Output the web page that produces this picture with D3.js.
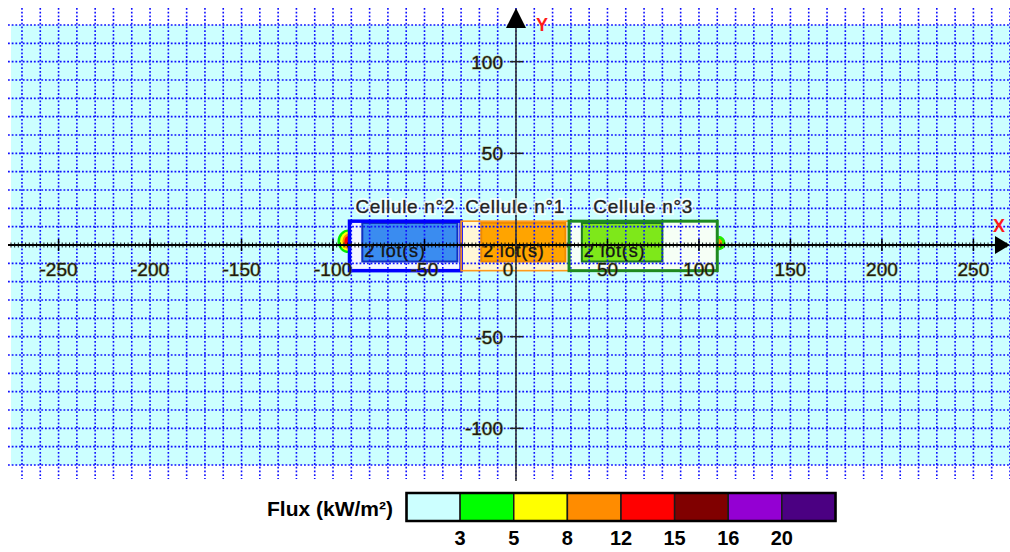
<!DOCTYPE html>
<html lang="fr">
<head>
    <meta charset="UTF-8">
    <title>Cellules - flux thermique</title>
    <script src="https://d3js.org/d3.v7.min.js"></script>
    <style>
        body { margin: 0; background: #ffffff; overflow: hidden; }
        svg { display: block; font-family: Arial, "Liberation Sans", sans-serif; }
        .grid line { stroke: #0f0fff; stroke-width: 1.6; stroke-dasharray: 1.8 1.9; }
        .tick-label { font-size: 19px; fill: #1a1a10; paint-order: stroke; stroke: rgba(120, 105, 20, 0.55); stroke-width: 1.1px; }
        .cell-label { font-size: 19px; fill: #222; letter-spacing: 0.7px; stroke: rgba(40, 40, 40, 0.6); stroke-width: 0.6px; }
        .cell-halo { font-size: 19px; fill: none; letter-spacing: 0.7px; stroke: rgba(255, 255, 255, 0.7); stroke-width: 4px; }
        .lot-label { font-size: 18px; fill: #141414; letter-spacing: 0.8px; stroke: rgba(20, 20, 20, 0.6); stroke-width: 0.6px; }
    </style>
</head>
<body>
<div id="chart"></div>
<script>
    // ---- data (metres) ----
    const cellNames  = ["Cellule n°2", "Cellule n°1", "Cellule n°3"];
    const cellX0     = [-91, -30, 29];
    const cellX1     = [-30, 29, 110];
    const cellY0     = [-14, -14, -14];
    const cellY1     = [13, 13, 13];
    const lotX0      = [-84, -19, 36];
    const lotX1      = [-32, 27, 80];
    const lotY0      = [-9, -9, -9];
    const lotY1      = [12, 12, 12];
    const lotLabels  = ["2 lot(s)", "2 lot(s)", "2 lot(s)"];

    // flux zones at the cell ends (semi-axes in metres)
    const zoneLeftRx  = [6, 4.6, 3.3, 2.2];
    const zoneLeftRy  = [6.4, 5.3, 4.1, 2.9];
    const zoneLeftCol = ["#00ee00", "#ffff00", "#ff8c00", "#ff0000"];
    const zoneRightRx  = [4, 2.2];
    const zoneRightRy  = [4, 2.4];
    const zoneRightCol = ["#22ee00", "#ff8c00"];

    const xTicks = [-250, -200, -150, -100, -50, 0, 50, 100, 150, 200, 250];
    const yTicks = [-100, -50, 50, 100];

    const fluxLabels = ["3", "5", "8", "12", "15", "16", "20"];
    const fluxColors = ["#ccffff", "#00ff00", "#ffff00", "#ff8c00", "#ff0000", "#800000", "#9400d3", "#4b0082"];

    // ---- styles per cell ----
    const cellStroke = ["#0000ff", "#ff9a1a", "#1e8a1e"];
    const cellStrokeW = [3.5, 1.6, 3];
    const cellFill   = ["#f2f6ff", "#fff7d6", "#f6fff6"];
    const lotFill    = ["#3a8cf0", "#ffa400", "#7ee81a"];
    const lotStroke  = ["#1030c0", "#f08a00", "#1e7a1e"];

    const width = 1010, height = 552;

    const svg = d3.select("#chart").append("svg")
        .attr("width", width)
        .attr("height", height);

    const x = d3.scaleLinear().domain([-276, 270]).range([11, 1010]);
    const y = d3.scaleLinear().domain([-120, 120]).range([465, 25]);

    // background
    svg.append("rect")
        .attr("x", x(-276)).attr("y", y(120))
        .attr("width", width - x(-276)).attr("height", y(-120) - y(120))
        .attr("fill", "#ccffff");

    // cells
    const cells = svg.append("g");
    cellNames.forEach((name, i) => {
        cells.append("rect")
            .attr("x", x(cellX0[i])).attr("y", y(cellY1[i]))
            .attr("width", x(cellX1[i]) - x(cellX0[i]))
            .attr("height", y(cellY0[i]) - y(cellY1[i]))
            .attr("fill", cellFill[i]);
        cells.append("rect")
            .attr("x", x(lotX0[i])).attr("y", y(lotY1[i]))
            .attr("width", x(lotX1[i]) - x(lotX0[i]))
            .attr("height", y(lotY0[i]) - y(lotY1[i]))
            .attr("fill", lotFill[i]);
    });

    // flux zones (half ellipses outside the end walls)
    const ellipseArc = (cx, cy, rx, ry, side) => {
        const s = side < 0 ? 0 : 1;
        return `M${cx},${cy - ry} A${rx},${ry} 0 0 ${s} ${cx},${cy + ry} Z`;
    };
    const zx = x(cellX0[0]) - 1, zxr = x(cellX1[2]) + 1, zy = y(2);
    zoneLeftRx.forEach((rx, i) => {
        svg.append("path")
            .attr("d", ellipseArc(zx, zy, x(rx) - x(0), y(0) - y(zoneLeftRy[i]), -1))
            .attr("fill", zoneLeftCol[i]);
    });
    zoneRightRx.forEach((rx, i) => {
        svg.append("path")
            .attr("d", ellipseArc(zxr, y(1), x(rx) - x(0), y(0) - y(zoneRightRy[i]), 1))
            .attr("fill", zoneRightCol[i]);
    });

    // grid (extends a little past the background)
    const grid = svg.append("g").attr("class", "grid");
    grid.selectAll("line.v")
        .data(d3.range(-270, 271, 10))
        .enter().append("line")
        .attr("x1", d => x(d)).attr("x2", d => x(d))
        .attr("y1", 8).attr("y2", 479);
    grid.selectAll("line.h")
        .data(d3.range(-120, 121, 10))
        .enter().append("line")
        .attr("x1", 8).attr("x2", width)
        .attr("y1", d => y(d)).attr("y2", d => y(d));

    // cell outlines
    cellNames.forEach((name, i) => {
        cells.append("rect")
            .attr("x", x(lotX0[i])).attr("y", y(lotY1[i]))
            .attr("width", x(lotX1[i]) - x(lotX0[i]))
            .attr("height", y(lotY0[i]) - y(lotY1[i]))
            .attr("fill", "none")
            .attr("stroke", lotStroke[i]).attr("stroke-width", 2);
        svg.append("rect")
            .attr("x", x(cellX0[i])).attr("y", y(cellY1[i]))
            .attr("width", x(cellX1[i]) - x(cellX0[i]))
            .attr("height", y(cellY0[i]) - y(cellY1[i]))
            .attr("fill", "none")
            .attr("stroke", cellStroke[i]).attr("stroke-width", cellStrokeW[i]);
    });

    // axes
    const axes = svg.append("g");
    const x0 = x(0), y0 = y(0);

    axes.append("line")
        .attr("x1", 8).attr("x2", 996)
        .attr("y1", y0).attr("y2", y0)
        .attr("stroke", "#000").attr("stroke-width", 2);
    axes.selectAll("line.minor")
        .data(d3.range(-276, 270, 2))
        .enter().append("line")
        .attr("x1", d => x(d)).attr("x2", d => x(d))
        .attr("y1", y0 - 2.5).attr("y2", y0 + 2.5)
        .attr("stroke", "#000").attr("stroke-width", 0.9);
    axes.selectAll("line.xmajor")
        .data(xTicks)
        .enter().append("line")
        .attr("x1", d => x(d)).attr("x2", d => x(d))
        .attr("y1", y0 - 6).attr("y2", y0 + 6)
        .attr("stroke", "#000").attr("stroke-width", 1.5);
    axes.append("path")
        .attr("d", `M${width},${y0} L${995},${y0 - 9} L${995},${y0 + 9} Z`)
        .attr("fill", "#000");

    axes.append("line")
        .attr("x1", x0).attr("x2", x0)
        .attr("y1", 20).attr("y2", 481)
        .attr("stroke", "#333").attr("stroke-width", 1.6);
    axes.selectAll("line.ymajor")
        .data(yTicks)
        .enter().append("line")
        .attr("x1", x0 - 6).attr("x2", x0 + 7)
        .attr("y1", d => y(d)).attr("y2", d => y(d))
        .attr("stroke", "#222").attr("stroke-width", 1.5);
    axes.append("path")
        .attr("d", `M${x0},8 L${x0 - 10},28 L${x0 + 10},28 Z`)
        .attr("fill", "#000");

    axes.append("text")
        .attr("x", 542).attr("y", 31)
        .attr("text-anchor", "middle")
        .attr("font-size", 18).attr("font-weight", "bold")
        .attr("fill", "#ff1a1a").text("Y");
    axes.append("text")
        .attr("x", 999).attr("y", 232)
        .attr("text-anchor", "middle")
        .attr("font-size", 18).attr("font-weight", "bold")
        .attr("fill", "#ff1a1a").text("X");

    // tick labels
    axes.selectAll("text.xl")
        .data(xTicks)
        .enter().append("text")
        .attr("class", "tick-label")
        .attr("x", d => d === 0 ? x(d) - 8 : x(d))
        .attr("y", y0 + 31)
        .attr("text-anchor", "middle")
        .text(d => d);
    axes.selectAll("text.yl")
        .data(yTicks)
        .enter().append("text")
        .attr("class", "tick-label")
        .attr("x", x0 - 13)
        .attr("y", d => y(d) + 7)
        .attr("text-anchor", "end")
        .text(d => d);

    // cell and lot labels
    cellNames.forEach((name, i) => {
        const cx = x((cellX0[i] + cellX1[i]) / 2), cy = y(cellY1[i]) - 8;
        svg.append("text")
            .attr("class", "cell-halo")
            .attr("x", cx).attr("y", cy)
            .attr("text-anchor", "middle")
            .text(name);
        svg.append("text")
            .attr("class", "cell-label")
            .attr("x", cx).attr("y", cy)
            .attr("text-anchor", "middle")
            .text(name);
        svg.append("text")
            .attr("class", "lot-label")
            .attr("x", x(lotX0[i]) + 2)
            .attr("y", y(lotY0[i]) - 5)
            .text(lotLabels[i]);
    });

    // legend
    const legend = svg.append("g");
    const lx = d3.scaleLinear().domain([0, fluxColors.length]).range([406.5, 835.5]);
    const ly0 = 493, ly1 = 521;

    legend.append("text")
        .attr("x", 393).attr("y", 516)
        .attr("text-anchor", "end")
        .attr("font-size", 21).attr("font-weight", "bold")
        .attr("fill", "#000")
        .text("Flux (kW/m²)");

    legend.selectAll("rect.sw")
        .data(fluxColors)
        .enter().append("rect")
        .attr("x", (d, i) => lx(i)).attr("y", ly0)
        .attr("width", (d, i) => lx(i + 1) - lx(i))
        .attr("height", ly1 - ly0)
        .attr("fill", d => d)
        .attr("stroke", "#1a1a1a").attr("stroke-width", 1.5);
    legend.append("rect")
        .attr("x", lx(0)).attr("y", ly0)
        .attr("width", lx(fluxColors.length) - lx(0))
        .attr("height", ly1 - ly0)
        .attr("fill", "none")
        .attr("stroke", "#000").attr("stroke-width", 2.5);

    legend.selectAll("text.fl")
        .data(fluxLabels)
        .enter().append("text")
        .attr("x", (d, i) => lx(i + 1))
        .attr("y", 545)
        .attr("text-anchor", "middle")
        .attr("font-size", 20).attr("font-weight", "bold")
        .attr("fill", "#000")
        .text(d => d);
</script>
</body>
</html>
